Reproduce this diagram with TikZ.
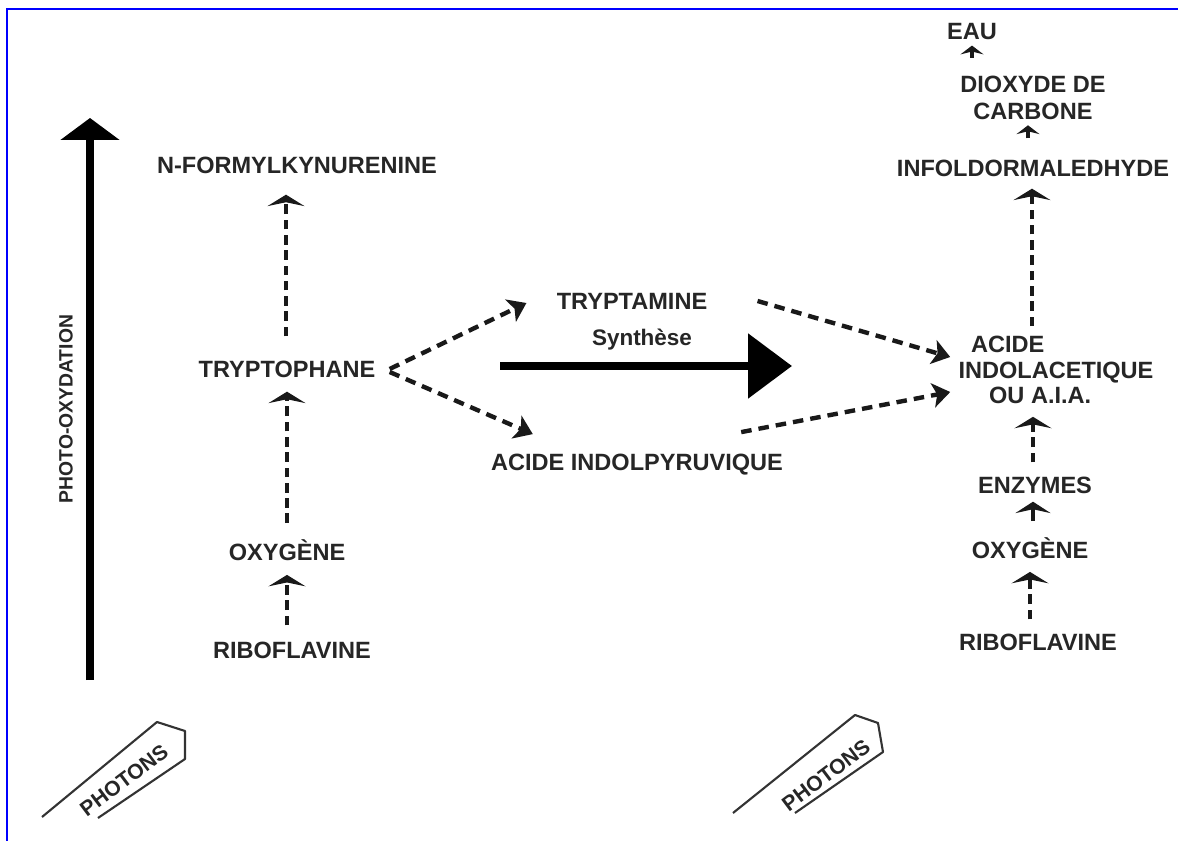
\documentclass[tikz,border=0pt]{standalone}
\usepackage{fontspec}
\setmainfont{Liberation Sans}
\usetikzlibrary{arrows.meta,calc}
\begin{document}
\begin{tikzpicture}[x=0.02cm,y=-0.02cm,
  lbl/.style={font=\bfseries\fontsize{13.4}{15.5}\selectfont, text=black!85, inner sep=0pt, align=center},
  dline/.style={draw=black!90, line width=2.6pt, dash pattern=on 5.5pt off 3.2pt, -{Stealth[length=6.5pt,width=21pt,inset=2.2pt]}},
  diag/.style={draw=black!90, line width=2.5pt, dash pattern=on 6pt off 4pt, -{Stealth[length=10pt,width=14pt,inset=2.5pt]}},
  sline/.style={draw=black!90, line width=2.6pt, -{Stealth[length=6.5pt,width=20pt,inset=2.2pt]}},
  tiny/.style={draw=black!90, line width=2.4pt, -{Stealth[length=5pt,width=13pt,inset=1.6pt]}},
  phot/.style={draw=black!80, line width=1.2pt, line join=round}
]
\useasboundingbox (0,0) rectangle (1178,841);
\fill[white] (0,0) rectangle (1178,841);
% frame
\draw[blue, line width=1.3pt] (7,841) -- (7,9) -- (1178,9);

% big photo-oxydation arrow
\coordinate (po1) at (90,680);
\coordinate (po2) at (90,118);
\draw[line width=5pt, -{Triangle[length=12.5pt,width=33pt]}] (po1) -- (po2);
\node[lbl, rotate=90, font=\bfseries\fontsize{11}{13}\selectfont] (photoox) at (66,409) {PHOTO-OXYDATION};

% left column
\node[lbl] (nfk) at (297,165) {N-FORMYLKYNURENINE};
\node[lbl] (tryp) at (287,369) {TRYPTOPHANE};
\node[lbl] (oxyL) at (287,550) {OXYGÈNE};
\node[lbl] (ribL) at (292,650) {RIBOFLAVINE};

\draw[dline] ($(tryp.north)+(-1,-24)$) -- ($(tryp.north |- nfk.south)+(-1,21)$);
\draw[dline] ($(oxyL.north)+(0,-16)$) -- ($(tryp.south)+(0,14)$);
\draw[dline] ($(ribL.north)+(-5,-16)$) -- ($(ribL.north |- oxyL.south)+(-5,14)$);

% middle
\node[lbl] (tam) at (632,301) {TRYPTAMINE};
\node[lbl, font=\bfseries\fontsize{12.8}{15}\selectfont] (synth) at (642,340) {Synthèse};
\node[lbl] (aip) at (637,465) {ACIDE INDOLPYRUVIQUE};
\coordinate (s1) at (500,366);
\coordinate (s2) at (792,366);
\draw[line width=4.6pt, -{Triangle[length=25pt,width=36pt]}] (s1) -- (s2);

% right column
\node[lbl] (eau) at (972,32) {EAU};
\node[lbl] (co2) at (1033,98) {DIOXYDE DE\\CARBONE};
\node[lbl] (infol) at (1033,168) {INFOLDORMALEDHYDE};
\node[lbl, font=\bfseries\fontsize{13.4}{14.3}\selectfont] (aia) at (1056,370) {ACIDE\hspace*{55pt}\\INDOLACETIQUE\\OU A.I.A.\hspace*{18pt}};
\node[lbl] (enz) at (1035,485) {ENZYMES};
\node[lbl] (oxyR) at (1030,548) {OXYGÈNE};
\node[lbl] (ribR) at (1038,642) {RIBOFLAVINE};

\draw[tiny] ($(eau.south)+(0,17)$) -- ($(eau.south)+(0,5)$);
\draw[tiny] ($(co2.south)+(-5,18)$) -- ($(co2.south)+(-5,5)$);
\draw[dline] ($(infol.south |- aia.north)+(-1,-10)$) -- ($(infol.south)+(-1,12)$);
\draw[dline] ($(enz.north)+(-2,-14)$) -- ($(enz.north |- aia.south)+(-2,13)$);
\draw[sline] ($(oxyR.north)+(3,-16)$) -- ($(oxyR.north |- enz.south)+(3,8)$);
\draw[dline] ($(ribR.north)+(-8,-14)$) -- ($(ribR.north |- oxyR.south)+(-8,13)$);

% diagonal connectors
\draw[diag] ($(tryp.east)+(14,0)$) -- ($(tam.west)+(-30,2)$);
\draw[diag] ($(tryp.east)+(14,3)$) -- ($(aip.north west)+(42,-20)$);
\draw[diag] ($(tam.east)+(50,0)$) -- ($(aia.west)+(-8,-13)$);
\draw[diag] ($(aip.north east)+(-42,-22)$) -- ($(aia.west)+(-8,22)$);

% photons arrows
\draw[phot] (42,817) -- (157,722) -- (185,731) -- (185,759) -- (98,818);
\node[lbl, rotate=37, font=\bfseries\fontsize{12}{14}\selectfont] (ph1) at (124,780) {PHOTONS};
\draw[phot] (733,813) -- (855,715) -- (878,723) -- (883,752) -- (795,813);
\node[lbl, rotate=37, font=\bfseries\fontsize{12}{14}\selectfont] (ph2) at (826,775) {PHOTONS};
\end{tikzpicture}
\end{document}
